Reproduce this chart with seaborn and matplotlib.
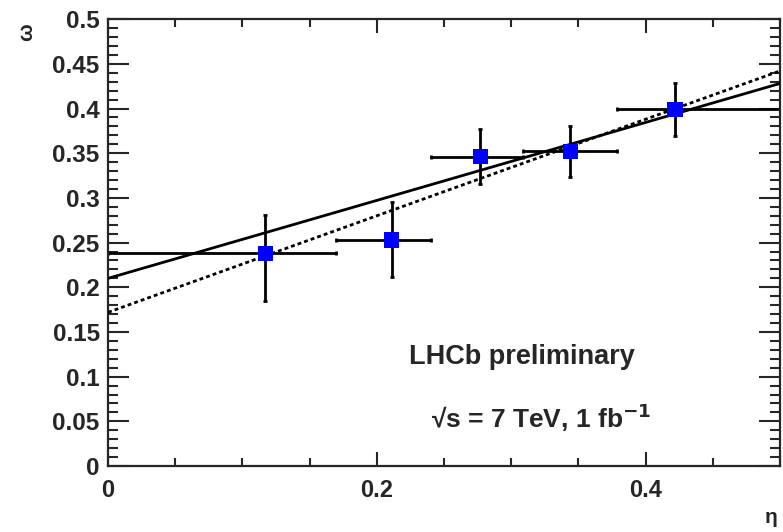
import numpy as np
import pandas as pd
import matplotlib
matplotlib.use("Agg")
import matplotlib.pyplot as plt
from matplotlib.ticker import MultipleLocator
import seaborn as sns

# measured points (eta bins) and errors
eta = [0.117, 0.211, 0.277, 0.344, 0.422]
omega = [0.238, 0.253, 0.346, 0.352, 0.399]
eta_lo = [0.0, 0.170, 0.240, 0.309, 0.379]
eta_hi = [0.170, 0.240, 0.309, 0.379, 0.5]
omega_lo = [0.185, 0.212, 0.315, 0.323, 0.369]
omega_hi = [0.281, 0.295, 0.377, 0.381, 0.429]

# fit lines, end points
fit_x = [0.0, 0.5]
fit_solid = [0.210, 0.428]
fit_dotted = [0.172, 0.442]

sns.set_style("ticks")
plt.rcParams["font.family"] = ["Liberation Sans", "DejaVu Sans"]
plt.rcParams["font.weight"] = "bold"

fig = plt.figure(figsize=(7.83, 5.32), dpi=100)
ax = fig.add_axes([0.138, 0.124, 0.858, 0.840])

df = pd.DataFrame({"eta": eta, "omega": omega})
xerr = [np.array(eta) - np.array(eta_lo), np.array(eta_hi) - np.array(eta)]
yerr = [np.array(omega) - np.array(omega_lo), np.array(omega_hi) - np.array(omega)]

ax.errorbar(eta, omega, xerr=xerr, yerr=yerr, fmt="none", ecolor="black",
            elinewidth=2, capsize=1.5, capthick=2, zorder=2)

lines = pd.DataFrame({"x": fit_x, "solid": fit_solid, "dotted": fit_dotted})
sns.lineplot(data=lines, x="x", y="solid", color="black", lw=2, ax=ax, zorder=3)
sns.lineplot(data=lines, x="x", y="dotted", color="black", lw=2,
             dashes=False, ax=ax, zorder=3, linestyle=(0, (1.4, 1.1)))

sns.scatterplot(data=df, x="eta", y="omega", marker="s", s=120, color="#0000ff",
                edgecolor="none", ax=ax, zorder=4)

ax.set_xlim(0, 0.5)
ax.set_ylim(0, 0.5)
ax.xaxis.set_major_locator(MultipleLocator(0.2))
ax.xaxis.set_minor_locator(MultipleLocator(0.05))
ax.yaxis.set_major_locator(MultipleLocator(0.05))
ax.yaxis.set_minor_locator(MultipleLocator(0.01))
ax.set_xticks([0, 0.2, 0.4])
ax.set_xticklabels(["0", "0.2", "0.4"])
ax.set_yticks(np.round(np.arange(0, 0.501, 0.05), 2))
ax.set_yticklabels(["0", "0.05", "0.1", "0.15", "0.2", "0.25", "0.3",
                    "0.35", "0.4", "0.45", "0.5"])

ax.tick_params(which="both", direction="in", top=True, right=True, width=1.5)
ax.tick_params(axis="y", which="major", length=15, labelsize=17.5, pad=6)
ax.tick_params(axis="y", which="minor", length=7)
ax.tick_params(axis="x", which="major", length=10, labelsize=17, pad=9)
ax.tick_params(axis="x", which="minor", length=6)
for s in ax.spines.values():
    s.set_linewidth(1.6)

ax.set_xlabel("")
ax.set_ylabel("")
fig.text(0.034, 0.94, "ω", rotation=90, fontsize=15, ha="center", va="center")
fig.text(0.985, 0.028, "η", fontsize=15, ha="center", va="center")

ax.text(0.224, 0.122, "LHCb preliminary", fontsize=19.5, fontweight="bold",
        ha="left", va="center")
ax.text(0.240, 0.054, "√s = 7 TeV, 1 fb$^{\\mathbf{-1}}$", fontsize=19,
        fontweight="bold", ha="left", va="center")

fig.savefig("out.png", dpi=100)
